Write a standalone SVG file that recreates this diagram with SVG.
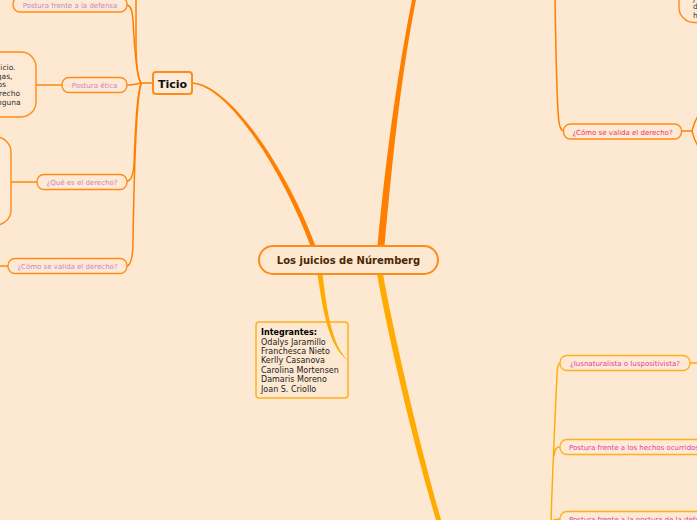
<svg xmlns="http://www.w3.org/2000/svg" width="697" height="520" viewBox="0 0 697 520">
<style>
text{font-family:"DejaVu Sans","Liberation Sans",sans-serif}
.lbl{fill:#fde9d4;stroke:#ff8c1a;stroke-width:1.4}
.lbly{fill:#fde9d4;stroke:#ffb01e;stroke-width:1.4}
.big{fill:#fde9d4;stroke:#ff8c1a;stroke-width:1.4}
.tl{font-size:7px;fill:#cc84c6;text-anchor:middle}
.tr{font-size:7px;fill:#e9346e;text-anchor:middle}
.tb{font-size:7px;fill:#e33ca6}
.frag{font-size:7.5px;fill:#333}
.th{fill:none;stroke:#ff8000;stroke-width:1.5;stroke-linecap:round}
.ty{fill:none;stroke:#ffab00;stroke-width:1.4;stroke-linecap:round}
.sub{fill:none;stroke:#ffa040;stroke-width:2}
</style>
<rect x="0" y="0" width="697" height="520" fill="#fde8d2"/>
<g id="integrantes-box">
  <rect x="256" y="322" width="92" height="76" rx="3" fill="#fde8d2" stroke="#ffb01e" stroke-width="1.5"/>
</g>
<g id="connectors">
  <path d="M192,82.3 C230,84 287,169 315.5,246 L310.5,246 C283,172 229,86 192,83.7 Z" fill="#ff8000"/>
  <path d="M377.5,246 C384.5,170 396,80 412,0 L416,0 C400,80 391.5,170 384.5,246 Z" fill="#ff8000"/>
  <path d="M317.5,274 C323,312 329,347 348,360.5 C331,344 327,310 322.5,274 Z" fill="#ffab00"/>
  <path d="M377,274 C387,330 412,440 437.5,525 L442.5,525 C418,440 393,330 383,274 Z" fill="#ffab00"/>
  <path class="th" stroke-width="2" d="M153,83 L141,83"/>
  <path class="th" d="M141,83 C137,78 136,60 136,40 L136,-2"/>
  <path class="th" d="M141,83 C136,76 134,40 133,20 C132,10 131,6 127,5"/>
  <path class="th" d="M141,83 C136,84 132,85 127,85"/>
  <path class="th" d="M141,84 C136,95 135,140 134,165 C133,176 131,181 127,181"/>
  <path class="th" d="M141,84 C136,100 134,180 133,240 C133,258 131,265 127,266"/>
  <path class="sub" d="M36,85 L62,85"/>
  <path class="sub" d="M11,182 L37,182"/>
  <path class="sub" d="M0,266 L8,266"/>
  <path class="th" d="M555,-2 C556,60 557,110 559,122 C560,128 561,131 564,131"/>
  <path class="th" stroke-width="2.5" d="M681,131 L692,131"/>
  <path class="th" d="M698,116 C694,122 693,128 692,131 C693,134 694,140 698,146"/>
  <path class="ty" d="M551,525 C552,480 555,420 557,375 C557.5,366 558,363 561,363"/>
  <path class="ty" d="M554.3,455 C554.6,449 556,447 561,447"/>
  <path class="ty" d="M551.3,524 C551.8,521 553,519 560,519"/>
  <path class="ty" d="M690,363 L698,363"/>
</g>
<g id="center">
  <rect x="259" y="246" width="179" height="28" rx="14" fill="#fde8d2" stroke="#ff8c1a" stroke-width="2"/>
  <text x="348.5" y="264.3" font-size="10" font-weight="bold" fill="#4d2600" text-anchor="middle">Los juicios de Núremberg</text>
</g>
<g id="ticio">
  <rect x="153" y="72" width="39" height="22" rx="3" fill="#fdebd8" stroke="#ff8c1a" stroke-width="2"/>
  <text x="172.5" y="87.5" font-size="11" font-weight="bold" fill="#111" text-anchor="middle">Ticio</text>
</g>
<g id="integrantes">
  <text font-size="8" fill="#222">
    <tspan x="261" y="335" font-weight="bold" fill="#000">Integrantes:</tspan>
    <tspan x="261" y="344.6">Odalys Jaramillo</tspan>
    <tspan x="261" y="354">Franchesca Nieto</tspan>
    <tspan x="261" y="363.4">Kerlly Casanova</tspan>
    <tspan x="261" y="372.8">Carolina Mortensen</tspan>
    <tspan x="261" y="382.2">Damaris Moreno</tspan>
    <tspan x="261" y="391.6">Joan S. Criollo</tspan>
  </text>
</g>
<g id="postura-defensa-left">
  <rect class="lbl" x="13" y="-3" width="114" height="15" rx="7"/>
  <text class="tl" x="70" y="7.5">Postura frente a la defensa</text>
</g>
<g id="postura-etica">
  <rect class="lbl" x="62" y="77.5" width="65" height="15" rx="7"/>
  <text class="tl" x="94.5" y="87.8">Postura ética</text>
</g>
<g id="etica-detalle">
  <rect class="big" x="-100" y="52" width="136" height="65" rx="15"/>
  <text class="frag" text-anchor="end"><tspan x="15.5" y="70">icio.</tspan><tspan x="12.5" y="78.7">gas,</tspan><tspan x="6" y="87.4">os</tspan><tspan x="20" y="96.1">recho</tspan><tspan x="20.5" y="104.8">nguna</tspan></text>
</g>
<g id="que-es-derecho">
  <rect class="lbl" x="37" y="174.5" width="90" height="15" rx="7"/>
  <text class="tl" x="82" y="184.5">¿Qué es el derecho?</text>
</g>
<g id="que-es-detalle">
  <rect class="big" x="-100" y="137" width="111" height="88" rx="15"/>
</g>
<g id="como-valida-left">
  <rect class="lbl" x="8" y="258.5" width="119" height="15" rx="7"/>
  <text class="tl" x="67.5" y="268.5">¿Cómo se valida el derecho?</text>
</g>
<g id="top-right-detalle">
  <rect class="big" x="679" y="-60" width="120" height="82.5" rx="15"/>
  <text class="frag"><tspan x="693" y="0.5">j</tspan><tspan x="693" y="9">d</tspan><tspan x="693" y="17.5">h</tspan></text>
</g>
<g id="como-valida-right">
  <rect class="lbl" x="563.5" y="124" width="118" height="15" rx="7"/>
  <text class="tr" x="622.5" y="134.5">¿Cómo se valida el derecho?</text>
</g>
<g id="iusnaturalista">
  <rect class="lbly" x="560" y="355.5" width="130" height="15" rx="7"/>
  <text class="tb" x="625" y="366" text-anchor="middle">¿Iusnaturalista o Iuspositivista?</text>
</g>
<g id="postura-hechos">
  <rect class="lbly" x="560" y="439.5" width="150" height="15" rx="7"/>
  <text class="tb" x="569" y="450">Postura frente a los hechos ocurridos</text>
</g>
<g id="postura-defensa-right">
  <rect class="lbly" x="560" y="511.5" width="170" height="15" rx="7"/>
  <text class="tb" x="569" y="522">Postura frente a la postura de la defensa</text>
</g>
</svg>
